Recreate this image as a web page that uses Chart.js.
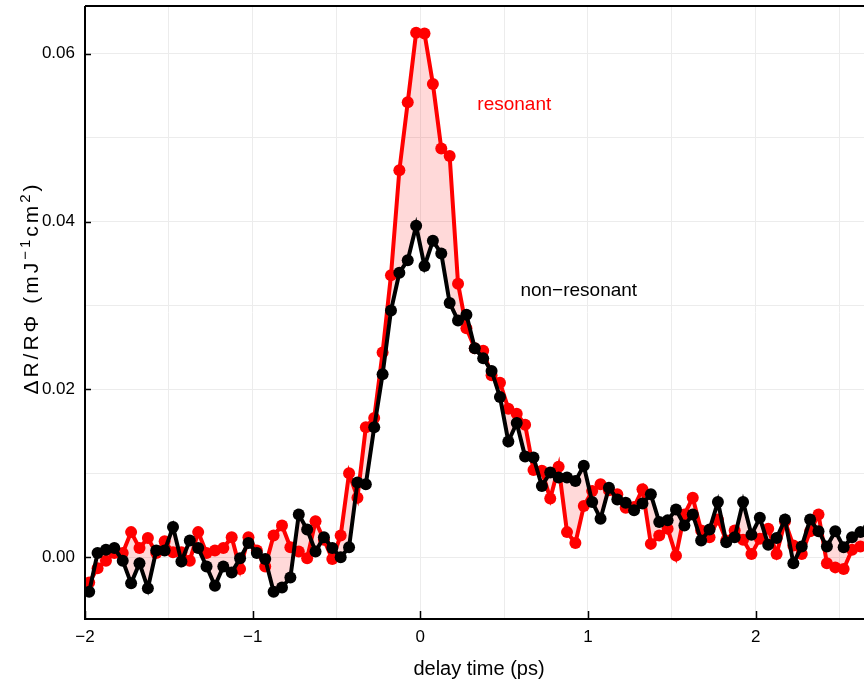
<!DOCTYPE html>
<html>
<head>
<meta charset="utf-8">
<script src="https://cdn.jsdelivr.net/npm/chart.js@4.4.0/dist/chart.umd.min.js"></script>
<style>
  html, body { margin: 0; padding: 0; overflow: hidden; background: #fff; }
  canvas { display: block; }
</style>
</head>
<body>
<canvas id="chart1" width="880" height="686"></canvas>
<script>
// delay time in ps
const delayTimes = [
  -1.975, -1.925, -1.875, -1.825, -1.775, -1.725, -1.675, -1.625, -1.575, -1.525,
  -1.475, -1.425, -1.375, -1.325, -1.275, -1.225, -1.175, -1.125, -1.075, -1.025,
  -0.975, -0.925, -0.875, -0.825, -0.775, -0.725, -0.675, -0.625, -0.575, -0.525,
  -0.475, -0.425, -0.375, -0.325, -0.275, -0.225, -0.175, -0.125, -0.075, -0.025,
  0.025, 0.075, 0.125, 0.175, 0.225, 0.275, 0.325, 0.375, 0.425, 0.475,
  0.525, 0.575, 0.625, 0.675, 0.725, 0.775, 0.825, 0.875, 0.925, 0.975,
  1.025, 1.075, 1.125, 1.175, 1.225, 1.275, 1.325, 1.375, 1.425, 1.475,
  1.525, 1.575, 1.625, 1.675, 1.725, 1.775, 1.825, 1.875, 1.925, 1.975,
  2.025, 2.075, 2.125, 2.175, 2.225, 2.275, 2.325, 2.375, 2.425, 2.475,
  2.525, 2.575, 2.625, 2.675
];

const resonant = [
  -0.0030, -0.0013, -0.0004, 0.0005, 0.0005, 0.0030, 0.0011, 0.0023, 0.0005, 0.0019,
  0.0006, 0.0006, -0.0004, 0.0030, 0.0005, 0.0008, 0.0011, 0.0024, -0.0014, 0.0024,
  0.0008, -0.0011, 0.0026, 0.0038, 0.0012, 0.0007, -0.0001, 0.0043, 0.0021, -0.0002,
  0.0026, 0.0100, 0.0071, 0.0155, 0.0166, 0.0244, 0.0336, 0.0461, 0.0542, 0.0625,
  0.0624, 0.0564, 0.0487, 0.0478, 0.0326, 0.0273, 0.0249, 0.0246, 0.0217, 0.0208,
  0.0177, 0.0171, 0.0158, 0.0104, 0.0103, 0.0070, 0.0108, 0.0030, 0.0017, 0.0061,
  0.0079, 0.0087, 0.0080, 0.0075, 0.0059, 0.0060, 0.0081, 0.0016, 0.0026, 0.0034,
  0.0002, 0.0051, 0.0071, 0.0032, 0.0024, 0.0045, 0.0020, 0.0032, 0.0021, 0.0004,
  0.0022, 0.0034, 0.0004, 0.0043, 0.0014, 0.0004, 0.0031, 0.0051, -0.0007, -0.0012,
  -0.0014, 0.0009, 0.0013, 0.0015
];

const nonResonant = [
  -0.0041, 0.0005, 0.0009, 0.0011, -0.0004, -0.0031, -0.0007, -0.0037, 0.0008, 0.0008,
  0.0036, -0.0005, 0.0020, 0.0011, -0.0011, -0.0034, -0.0011, -0.0018, -0.0001, 0.0017,
  0.0005, -0.0002, -0.0041, -0.0036, -0.0024, 0.0051, 0.0033, 0.0007, 0.0024, 0.0011,
  0.0000, 0.0012, 0.0089, 0.0087, 0.0155, 0.0218, 0.0294, 0.0339, 0.0354, 0.0395,
  0.0347, 0.0377, 0.0362, 0.0303, 0.0282, 0.0289, 0.0249, 0.0237, 0.0222, 0.0191,
  0.0138, 0.0160, 0.0120, 0.0119, 0.0085, 0.0101, 0.0095, 0.0095, 0.0091, 0.0109,
  0.0066, 0.0046, 0.0083, 0.0069, 0.0065, 0.0056, 0.0064, 0.0075, 0.0042, 0.0044,
  0.0057, 0.0038, 0.0051, 0.0020, 0.0033, 0.0066, 0.0018, 0.0024, 0.0066, 0.0027,
  0.0047, 0.0015, 0.0023, 0.0045, -0.0007, 0.0013, 0.0045, 0.0031, 0.0013, 0.0031,
  0.0012, 0.0024, 0.0030, 0.0035
];

const xGrid = [-2, -1.5, -1, -0.5, 0, 0.5, 1, 1.5, 2, 2.5];
const xLabels = [-2, -1, 0, 1, 2];
const yGrid = [0, 0.01, 0.02, 0.03, 0.04, 0.05, 0.06];
const yLabels = [0, 0.02, 0.04, 0.06];

const labelFont = 'Liberation Sans, Arial, sans-serif';

function fmtX(v) {
  return v < 0 ? '\u2212' + Math.abs(v) : String(v);
}

// frame, inward ticks, axis titles and the two curve labels
const framePlugin = {
  id: 'frame',
  afterDraw(chart) {
    const ctx = chart.ctx;
    const a = chart.chartArea;
    const xs = chart.scales.x, ys = chart.scales.y;
    ctx.save();
    ctx.strokeStyle = '#000';
    ctx.lineWidth = 2;
    ctx.beginPath();
    ctx.moveTo(a.left, a.top); ctx.lineTo(a.right + 10, a.top);
    ctx.moveTo(a.left, a.top); ctx.lineTo(a.left, a.bottom);
    ctx.moveTo(a.left - 1, a.bottom); ctx.lineTo(a.right + 10, a.bottom);
    ctx.stroke();

    ctx.lineWidth = 1.5;
    ctx.beginPath();
    xLabels.forEach(v => {
      const px = Math.round(xs.getPixelForValue(v)) + 0.5;
      ctx.moveTo(px, a.bottom); ctx.lineTo(px, a.bottom - 8);
    });
    yLabels.forEach(v => {
      const py = Math.round(ys.getPixelForValue(v)) + 0.5;
      ctx.moveTo(a.left, py); ctx.lineTo(a.left + 6, py);
    });
    ctx.stroke();

    // x title
    ctx.fillStyle = '#000';
    ctx.font = '20px ' + labelFont;
    ctx.textAlign = 'center';
    ctx.textBaseline = 'middle';
    ctx.fillText('delay time (ps)', 479, 669);

    // y title with superscripts
    const parts = [
      ['\u0394R/R\u03a6', 0, 21],
      [' (mJ', 0, 21],
      ['\u22121', -8, 15],
      ['cm', 0, 21],
      ['2', -8, 15],
      [')', 0, 21]
    ];
    ctx.letterSpacing = '3px';
    let total = 0;
    parts.forEach(p => { ctx.font = p[2] + 'px ' + labelFont; total += ctx.measureText(p[0]).width; });
    ctx.translate(38, 288);
    ctx.rotate(-Math.PI / 2);
    ctx.textAlign = 'left';
    ctx.textBaseline = 'alphabetic';
    let cx = -total / 2;
    parts.forEach(p => {
      ctx.font = p[2] + 'px ' + labelFont;
      ctx.fillText(p[0], cx, p[1]);
      cx += ctx.measureText(p[0]).width;
    });
    ctx.setTransform(1, 0, 0, 1, 0, 0);
    ctx.letterSpacing = '0px';

    // curve labels
    ctx.font = '19px ' + labelFont;
    ctx.textAlign = 'left';
    ctx.textBaseline = 'middle';
    ctx.fillStyle = '#ff0000';
    ctx.fillText('resonant', xs.getPixelForValue(0.34), ys.getPixelForValue(0.0539));
    ctx.fillStyle = '#000';
    ctx.fillText('non\u2212resonant', xs.getPixelForValue(0.597), ys.getPixelForValue(0.0318));
    ctx.restore();
  }
};

const chartCanvas = document.getElementById('chart1');
const chart1 = new Chart(chartCanvas.getContext('2d'), {
  type: 'line',
  data: {
    datasets: [
      {
        label: 'non-resonant',
        data: delayTimes.map((t, i) => ({ x: t, y: nonResonant[i] })),
        borderColor: '#000',
        backgroundColor: '#000',
        pointBackgroundColor: '#000',
        borderWidth: 4,
        pointRadius: 6,
        pointBorderWidth: 0,
        fill: false,
        tension: 0
      },
      {
        label: 'resonant',
        data: delayTimes.map((t, i) => ({ x: t, y: resonant[i] })),
        borderColor: '#ff0000',
        backgroundColor: 'rgba(255, 0, 0, 0.15)',
        pointBackgroundColor: '#ff0000',
        borderWidth: 4,
        pointRadius: 6,
        pointBorderWidth: 0,
        fill: 0,
        tension: 0
      }
    ]
  },
  options: {
    responsive: false,
    animation: false,
    devicePixelRatio: 1,
    layout: { padding: { top: 3, right: 7, left: 0, bottom: 0 } },
    plugins: {
      legend: { display: false },
      tooltip: { enabled: false }
    },
    scales: {
      x: {
        type: 'linear',
        min: -2,
        max: 2.7,
        afterBuildTicks: axis => { axis.ticks = xGrid.map(v => ({ value: v })); },
        afterFit: scale => {
          scale.height = 67;
          scale.paddingLeft = 0;
          scale.paddingRight = 0;
        },
        grid: { color: '#ececec', lineWidth: 1, drawTicks: false },
        border: { display: false },
        ticks: {
          autoSkip: false,
          maxRotation: 0,
          padding: 8,
          color: '#000',
          font: { family: labelFont, size: 17 },
          callback: v => xLabels.includes(v) ? fmtX(v) : ''
        }
      },
      y: {
        type: 'linear',
        min: -0.00735,
        max: 0.06568,
        afterBuildTicks: axis => { axis.ticks = yGrid.map(v => ({ value: v })); },
        afterFit: scale => {
          scale.width = 85;
          scale.paddingTop = 0;
          scale.paddingBottom = 0;
        },
        grid: { color: '#ececec', lineWidth: 1, drawTicks: false },
        border: { display: false },
        ticks: {
          autoSkip: false,
          padding: 10,
          color: '#000',
          font: { family: labelFont, size: 17 },
          callback: v => yLabels.includes(v) ? v.toFixed(2) : ''
        }
      }
    }
  },
  plugins: [framePlugin]
});
</script>
</body>
</html>
